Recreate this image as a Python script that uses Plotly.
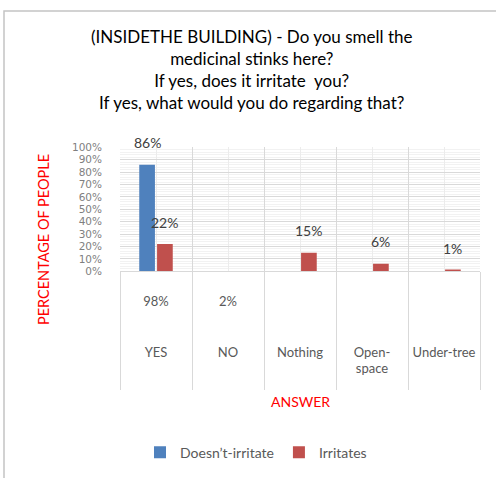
import plotly.graph_objects as go

# ---- data -------------------------------------------------------------
categories = ["YES", "NO", "Nothing", "Open-<br>space", "Under-tree"]
respondent_share = ["98%", "2%", "", "", ""]
doesnt_irritate = [86, None, None, None, None]
irritates = [22, None, 15, 6, 1]
y_ticks = [0, 10, 20, 30, 40, 50, 60, 70, 80, 90, 100]
y_tick_labels = ["0%", "10%", "20%", "30%", "40%", "50%", "60%", "70%", "80%", "90%", "100%"]

W, H = 496, 484
FONT = "Lato"
GREY = "#595959"

xs = list(range(len(categories)))
boundaries = [i - 0.5 for i in xs] + [xs[-1] + 0.5]
tick_text = [f"{s}<br><br><br>{c}" for s, c in zip(respondent_share, categories)]

# pixel -> paper helpers
px = lambda v: v / W
py = lambda v: 1 - v / H

BARGAP, GROUPGAP = 0.505, 0.12
slot = (1 - BARGAP) / 2

fig = go.Figure()
fig.add_trace(go.Bar(x=xs, y=doesnt_irritate, name="Doesn’t-irritate",
                     marker=dict(color="#4F81BD", line=dict(width=0))))
fig.add_trace(go.Bar(x=xs, y=irritates, name="Irritates",
                     marker=dict(color="#C0504D", line=dict(width=0))))
# carrier for the category divider axis
fig.add_trace(go.Scatter(x=boundaries, y=[0] * len(boundaries), xaxis="x2",
                         mode="none", showlegend=False, hoverinfo="skip"))

# value labels floating above each bar
annotations = []
for series, off in ((doesnt_irritate, -slot / 2), (irritates, slot / 2)):
    for i, v in zip(xs, series):
        if v is None:
            continue
        annotations.append(dict(x=i + off, y=v, xref="x", yref="y", yshift=22,
                                text=f"{v}%", showarrow=False,
                                xanchor="center", yanchor="middle",
                                font=dict(family=FONT, size=14, color="#404040")))

annotations += [
    dict(x=px(251), y=py(65), xref="paper", yref="paper", showarrow=False,
         text="(INSIDETHE BUILDING) - Do you smell the<br>medicinal stinks here?<br>"
              "If yes, does it irritate  you?<br>If yes, what would you do regarding that?",
         font=dict(family=FONT, size=17, color="#000000"),
         xanchor="center", yanchor="middle", align="center"),
    dict(x=px(43), y=py(240), xref="paper", yref="paper", showarrow=False,
         text="PERCENTAGE OF PEOPLE", textangle=-90, xanchor="center", yanchor="middle",
         font=dict(family=FONT, size=14.5, color="#FF0000")),
    dict(x=px(300), y=py(406), xref="paper", yref="paper", showarrow=False,
         text="ANSWER", xanchor="center", yanchor="middle",
         font=dict(family=FONT, size=14, color="#FF0000")),
]

x_domain = [px(120), px(480)]
fig.update_layout(
    width=W, height=H,
    margin=dict(l=0, r=0, t=0, b=0),
    paper_bgcolor="white", plot_bgcolor="white",
    barmode="group", bargap=BARGAP, bargroupgap=GROUPGAP,
    font=dict(family=FONT, color=GREY),
    showlegend=True,
    legend=dict(orientation="h", x=px(256), xanchor="center", y=py(458), yanchor="middle",
                font=dict(family=FONT, size=14, color=GREY), traceorder="normal",
                itemwidth=30),
    xaxis=dict(domain=x_domain, range=[boundaries[0], boundaries[-1]],
               tickmode="array", tickvals=xs, ticktext=tick_text, ticks="",
               ticklabelstandoff=18,
               tickfont=dict(family=FONT, size=13, color=GREY),
               showgrid=True, gridcolor="#ececec", gridwidth=1,
               showline=True, linecolor="#d9d9d9", zeroline=False, fixedrange=True),
    xaxis2=dict(domain=x_domain, range=[boundaries[0], boundaries[-1]], overlaying="x",
                anchor="y", side="bottom", tickmode="array", tickvals=boundaries,
                ticks="outside", ticklen=118, tickcolor="#d9d9d9", tickwidth=1,
                showticklabels=False, showgrid=True, gridcolor="#d9d9d9",
                zeroline=False, showline=False, fixedrange=True),
    yaxis=dict(domain=[py(272), py(145)], range=[0, 100],
               tickmode="array", tickvals=y_ticks, ticktext=y_tick_labels, ticks="",
               ticklabelstandoff=17,
               tickfont=dict(family="DejaVu Sans", size=10.5, color="#7f7f7f"),
               showgrid=True, gridcolor="#d9d9d9",
               minor=dict(dtick=2, showgrid=True, gridcolor="#f2f2f2"),
               showline=False, zeroline=False, fixedrange=True),
    annotations=annotations,
    shapes=[dict(type="path", xref="paper", yref="paper",
                 path=f"M {px(4)},0 L {px(4)},{py(5)} L 1,{py(5)}",
                 line=dict(color="#c4c4c4", width=1.5))],
)

fig.write_html("out.html")
